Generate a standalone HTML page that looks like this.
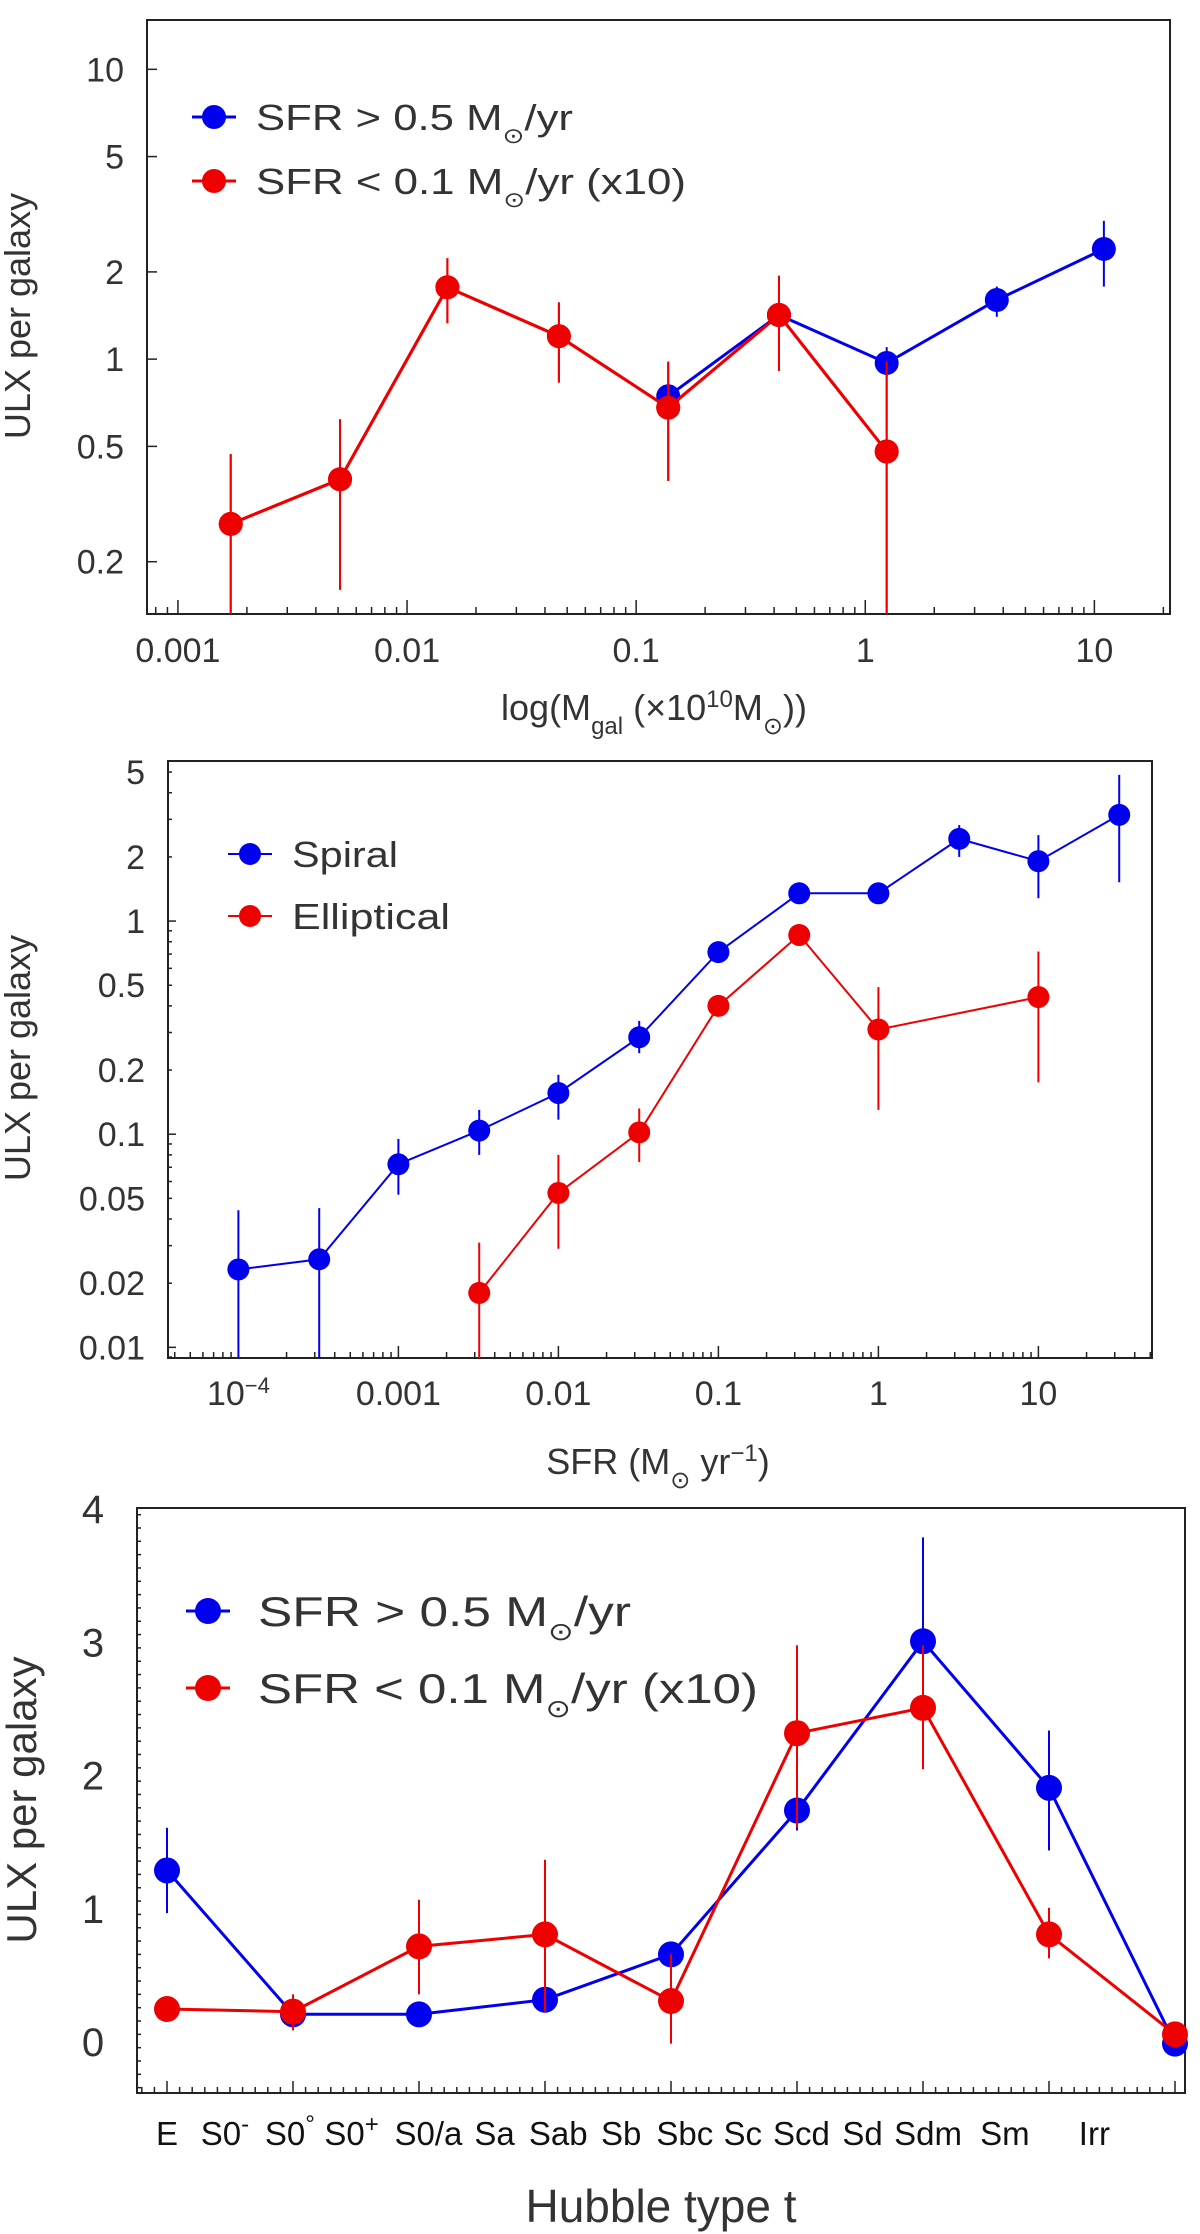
<!DOCTYPE html>
<html><head><meta charset="utf-8">
<style>
html,body{margin:0;padding:0;background:#fff;}
svg{display:block;font-family:"Liberation Sans",sans-serif;}
</style></head>
<body>
<svg id="fig" width="1200" height="2234" viewBox="0 0 1200 2234" xmlns="http://www.w3.org/2000/svg">
<rect x="0" y="0" width="1200" height="2234" fill="#fff"/>
</svg>
<script>
// ---------- Panel 1 data: ULX vs galaxy mass ----------
const p1HighX = [0.138, 0.42, 1.24, 3.75, 11];
const p1HighY = [0.745, 1.42, 0.97, 1.6, 2.4];
const p1HighLo = [0.68, 1.3, 0.88, 1.4, 1.78];
const p1HighHi = [0.8, 1.55, 1.1, 1.78, 3.0];
const p1LowX = [0.0017, 0.0051, 0.015, 0.046, 0.138, 0.42, 1.24];
const p1LowY = [0.27, 0.385, 1.77, 1.2, 0.68, 1.42, 0.48];
const p1LowLo = [0.05, 0.16, 1.33, 0.83, 0.38, 0.91, 0.05];
const p1LowHi = [0.47, 0.62, 2.23, 1.57, 0.98, 1.94, 0.98];
const p1XTicks = [0.001, 0.01, 0.1, 1, 10];
const p1XTickLabels = ["0.001", "0.01", "0.1", "1", "10"];
const p1YTicks = [0.2, 0.5, 1, 2, 5, 10];
const p1YTickLabels = ["0.2", "0.5", "1", "2", "5", "10"];

// ---------- Panel 2 data: ULX vs SFR ----------
const p2SpiralX = [1e-4, 3.2e-4, 1e-3, 3.2e-3, 0.01, 0.032, 0.1, 0.32, 1, 3.2, 10, 32];
const p2SpiralY = [0.0232, 0.0259, 0.0723, 0.104, 0.156, 0.285, 0.715, 1.35, 1.35, 2.43, 1.91, 3.15];
const p2SpiralLo = [0.005, 0.005, 0.052, 0.08, 0.117, 0.24, 0.65, 1.25, 1.25, 2.0, 1.28, 1.52];
const p2SpiralHi = [0.044, 0.045, 0.095, 0.13, 0.19, 0.34, 0.78, 1.45, 1.45, 2.82, 2.53, 4.85];
const p2EllX = [3.2e-3, 0.01, 0.032, 0.1, 0.32, 1, 10];
const p2EllY = [0.018, 0.053, 0.102, 0.40, 0.86, 0.31, 0.44];
const p2EllLo = [0.005, 0.029, 0.074, 0.36, 0.78, 0.13, 0.175];
const p2EllHi = [0.031, 0.08, 0.132, 0.45, 0.95, 0.49, 0.72];
const p2XTicks = [1e-4, 0.001, 0.01, 0.1, 1, 10];
const p2XTickLabels = ["10^-4", "0.001", "0.01", "0.1", "1", "10"];
const p2YTicks = [0.01, 0.02, 0.05, 0.1, 0.2, 0.5, 1, 2, 5];
const p2YTickLabels = ["0.01", "0.02", "0.05", "0.1", "0.2", "0.5", "1", "2", "5"];

// ---------- Panel 3 data: ULX vs Hubble type ----------
const p3T = [-5, -3, -1, 1, 3, 5, 7, 9, 11];
const p3HighY = [1.28, 0.2, 0.2, 0.31, 0.65, 1.73, 3.0, 1.9, -0.02];
const p3HighLo = [0.96, 0.2, 0.2, 0.31, 0.6, 1.58, 2.2, 1.43, -0.02];
const p3HighHi = [1.6, 0.2, 0.2, 0.31, 0.7, 1.88, 3.78, 2.33, -0.02];
const p3LowY = [0.24, 0.22, 0.71, 0.8, 0.3, 2.31, 2.5, 0.8, 0.05];
const p3LowLo = [0.2, 0.08, 0.35, 0.22, -0.02, 1.6, 2.04, 0.62, 0.02];
const p3LowHi = [0.28, 0.35, 1.06, 1.36, 0.65, 2.97, 2.97, 1.0, 0.08];
const p3CatLabels = ["E", "S0-", "S0°", "S0+", "S0/a", "Sa", "Sab", "Sb", "Sbc", "Sc", "Scd", "Sd", "Sdm", "Sm", "Irr"];
const p3CatT = [-5, -4.08, -3.05, -2.07, -0.85, 0.2, 1.21, 2.21, 3.22, 4.14, 5.07, 6.04, 7.08, 8.3, 9.72];
const p3YTicks = [0, 1, 2, 3, 4];
const p3YTickLabels = ["0", "1", "2", "3", "4"];

const NS = "http://www.w3.org/2000/svg";
const svg = document.getElementById("fig");
function mk(tag, attrs, parent) {
  const e = document.createElementNS(NS, tag);
  for (const k in attrs) e.setAttribute(k, attrs[k]);
  (parent || svg).appendChild(e);
  return e;
}
const TXT = "#333";
const BLUE = "#0000ee", RED = "#ee0000";

function logScale(d0, d1, r0, r1) {
  const a = Math.log10(d0), b = Math.log10(d1);
  return v => r0 + (Math.log10(v) - a) / (b - a) * (r1 - r0);
}
function linScale(d0, d1, r0, r1) { return v => r0 + (v - d0) / (d1 - d0) * (r1 - r0); }

function frame(L, T, R, B, name) {
  const r = mk("rect", {x: L, y: T, width: R - L, height: B - T, fill: "none", stroke: "#222", "stroke-width": 2});
  
  
}
function series(xs, ys, lo, hi, sx, sy, color, lw, rad, name, clipTop, clipBot) {
  const g = mk("g", {});
  
  
  for (let i = 0; i < xs.length; i++) {
    const x = sx(xs[i]);
    const y1 = Math.max(clipTop, sy(hi[i])), y2 = Math.min(clipBot, sy(lo[i]));
    const eb = mk("line", {x1: x, x2: x, y1: y1, y2: y2, stroke: color, "stroke-width": 2}, g);
    
    
  }
  const pts = xs.map((x, i) => sx(x).toFixed(1) + "," + sy(ys[i]).toFixed(1)).join(" ");
  const pl = mk("polyline", {points: pts, fill: "none", stroke: color, "stroke-width": lw}, g);
  
  
  for (let i = 0; i < xs.length; i++) {
    const c = mk("circle", {cx: sx(xs[i]), cy: sy(ys[i]), r: rad, fill: color}, g);
    
    
  }
}
function text(str, x, y, size, anchor, name, extra) {
  const t = mk("text", Object.assign({x: x, y: y, "font-size": size, fill: TXT, "text-anchor": anchor || "middle"}, extra || {}));
  t.textContent = str;
  
  
  return t;
}
function logMinorX(sx, d0, d1, yB, len) {
  for (let e = Math.floor(Math.log10(d0)); e <= Math.ceil(Math.log10(d1)); e++) {
    for (let m = 1; m <= 9; m++) {
      const v = m * Math.pow(10, e);
      if (v < d0 || v > d1) continue;
      const x = sx(v);
      mk("line", {x1: x, x2: x, y1: yB, y2: yB - (m === 1 ? len * 2 : len), stroke: "#222", "stroke-width": 1.5});
    }
  }
}
function logMinorY(sy, d0, d1, xL, len) {
  for (let e = Math.floor(Math.log10(d0)); e <= Math.ceil(Math.log10(d1)); e++) {
    for (let m = 1; m <= 9; m++) {
      const v = m * Math.pow(10, e);
      if (v < d0 || v > d1) continue;
      const y = sy(v);
      mk("line", {x1: xL, x2: xL + (m === 1 ? len * 2 : len), y1: y, y2: y, stroke: "#222", "stroke-width": 1.5});
    }
  }
}
function legendEntry(x, y, rad, lw, color, label, tx, size, tlen, name) {
  const g = mk("g", {});
  
  
  mk("line", {x1: x - 22, x2: x + 22, y1: y, y2: y, stroke: color, "stroke-width": lw}, g);
  mk("circle", {cx: x, cy: y, r: rad, fill: color}, g);
  return g;
}
function sunText(g, parts, x, y, size, tlen, name) {
  const t = mk("text", {x: x, y: y, "font-size": size, fill: TXT, textLength: tlen, lengthAdjust: "spacingAndGlyphs"}, g);
  
  
  parts.forEach(p => {
    const s = mk("tspan", p.sub ? {"baseline-shift": "sub", "font-size": size * 0.6} : (p.sup ? {"baseline-shift": "super", "font-size": size * 0.6} : {}), t);
    s.textContent = p.t;
  });
  return t;
}

// ================= PANEL 1 =================
(function () {
  const L = 147, R = 1170, T = 20, B = 614;
  const sx = logScale(Math.pow(10, -3.135), Math.pow(10, 1.33), L, R);
  const sy = logScale(0.132, 14.8, B, T);
  frame(L, T, R, B, "panel1-frame");
  logMinorX(sx, Math.pow(10, -3.135), Math.pow(10, 1.33), B, 7);
  p1XTicks.forEach((v, i) => text(p1XTickLabels[i], sx(v), 662, 34, "middle", "p1-x-tick-label"));
  p1YTicks.forEach((v, i) => {
    mk("line", {x1: L, x2: L + 10, y1: sy(v), y2: sy(v), stroke: "#222", "stroke-width": 1.5});
    text(p1YTickLabels[i], 124, sy(v) + 12, 34, "end", "p1-y-tick-label");
  });
  series(p1LowX, p1LowY, p1LowLo, p1LowHi, sx, sy, RED, 3, 12, "p1-low-sfr-series", T, B);
  series(p1HighX, p1HighY, p1HighLo, p1HighHi, sx, sy, BLUE, 3, 12, "p1-high-sfr-series", T, B);
  // draw red again on top where overlapping
  series(p1LowX, p1LowY, p1LowLo, p1LowHi, sx, sy, RED, 3, 12, "p1-low-sfr-overlay", T, B);
  const g1 = legendEntry(214, 117, 12, 3, BLUE, "", 0, 0, 0, "p1-legend-high-sfr");
  sunText(g1, [{t: "SFR > 0.5 M"}, {t: "⊙", sub: 1}, {t: "/yr"}], 256, 130, 36, 317, "p1-legend-high-text");
  const g2 = legendEntry(214, 181, 12, 3, RED, "", 0, 0, 0, "p1-legend-low-sfr");
  sunText(g2, [{t: "SFR < 0.1 M"}, {t: "⊙", sub: 1}, {t: "/yr (x10)"}], 256, 194, 36, 430, "p1-legend-low-text");
  const xl = mk("text", {x: 654, y: 720, "font-size": 36, fill: TXT, "text-anchor": "middle"});
  
  
  xl.innerHTML = 'log(M<tspan baseline-shift="sub" font-size="24">gal</tspan> (×10<tspan baseline-shift="super" font-size="24">10</tspan>M<tspan baseline-shift="sub" font-size="24">⊙</tspan>))';
  text("ULX per galaxy", 0, 0, 36, "middle", "p1-y-axis-title", {transform: "translate(30,316) rotate(-90)"});
})();

// ================= PANEL 2 =================
(function () {
  const L = 168, R = 1152, T = 761, B = 1358;
  const x0 = Math.pow(10, -4.44), x1 = Math.pow(10, 1.71);
  const y0 = Math.pow(10, -2.05), y1 = Math.pow(10, 0.751);
  const sx = logScale(x0, x1, L, R);
  const sy = logScale(y0, y1, B, T);
  frame(L, T, R, B, "panel2-frame");
  logMinorX(sx, x0, x1, B, 6);
  logMinorY(sy, y0, y1, L, 4);
  p2XTicks.forEach((v, i) => {
    const lab = p2XTickLabels[i];
    if (lab.indexOf("^") >= 0) {
      const t = mk("text", {x: sx(v), y: 1405, "font-size": 34, fill: TXT, "text-anchor": "middle"});
      
      
      const parts = lab.split("^");
      t.innerHTML = parts[0] + '<tspan baseline-shift="super" font-size="22">' + parts[1].replace("-", "−") + '</tspan>';
    } else text(lab, sx(v), 1405, 34, "middle", "p2-x-tick-label");
  });
  p2YTicks.forEach((v, i) => text(p2YTickLabels[i], 145, sy(v) + 12, 34, "end", "p2-y-tick-label"));
  series(p2EllX, p2EllY, p2EllLo, p2EllHi, sx, sy, RED, 2, 11, "p2-elliptical-series", T, B);
  series(p2SpiralX, p2SpiralY, p2SpiralLo, p2SpiralHi, sx, sy, BLUE, 2, 11, "p2-spiral-series", T, B);
  const g1 = legendEntry(250, 854, 11, 2, BLUE, "", 0, 0, 0, "p2-legend-spiral");
  sunText(g1, [{t: "Spiral"}], 292, 867, 36, 106, "p2-legend-spiral-text");
  const g2 = legendEntry(250, 916, 11, 2, RED, "", 0, 0, 0, "p2-legend-elliptical");
  sunText(g2, [{t: "Elliptical"}], 292, 929, 36, 158, "p2-legend-elliptical-text");
  const xl = mk("text", {x: 658, y: 1474, "font-size": 36, fill: TXT, "text-anchor": "middle"});
  
  
  xl.innerHTML = 'SFR (M<tspan baseline-shift="sub" font-size="24">⊙</tspan> yr<tspan baseline-shift="super" font-size="24">−1</tspan>)';
  text("ULX per galaxy", 0, 0, 36, "middle", "p2-y-axis-title", {transform: "translate(30,1058) rotate(-90)"});
})();

// ================= PANEL 3 =================
(function () {
  const L = 137, R = 1185, T = 1508, B = 2093;
  const sx = linScale(-5, 11, 167, 1175);
  const sy = linScale(0, 4, 2041, 1508);
  frame(L, T, R, B, "panel3-frame");
  for (let t = -5.6; t <= 11.6; t += 0.2) {
    const x = sx(t);
    if (x <= L || x >= R) continue;
    const major = Math.abs((t + 5) / 2 - Math.round((t + 5) / 2)) < 0.01;
    mk("line", {x1: x, x2: x, y1: B, y2: B - (major ? 12 : 6), stroke: "#222", "stroke-width": 1.5});
  }
  for (let v = -0.35; v <= 4; v += 0.1) {
    const y = sy(v);
    if (y >= B || y <= T) continue;
    const major = Math.abs(v - Math.round(v)) < 0.01;
    mk("line", {x1: L, x2: L + (major ? 10 : 4), y1: y, y2: y, stroke: "#222", "stroke-width": 1.5});
  }
  p3YTicks.forEach((v, i) => text(p3YTickLabels[i], 93, sy(v) + 15, 40, "middle", "p3-y-tick-label"));
  p3CatLabels.forEach((lab, i) => {
    const t = mk("text", {x: sx(p3CatT[i]), y: 2145, "font-size": 33, fill: "#111", "text-anchor": "middle"});
    
    
    if (lab.length === 3 && lab.startsWith("S0") && "-°+".indexOf(lab[2]) >= 0) {
      t.innerHTML = 'S0<tspan baseline-shift="super" font-size="24">' + lab[2] + '</tspan>';
    } else t.textContent = lab;
  });
  series(p3T, p3HighY, p3HighLo, p3HighHi, sx, sy, BLUE, 3, 13, "p3-high-sfr-series", T, B);
  series(p3T, p3LowY, p3LowLo, p3LowHi, sx, sy, RED, 3, 13, "p3-low-sfr-series", T, B);
  const g1 = legendEntry(208, 1611, 13, 3, BLUE, "", 0, 0, 0, "p3-legend-high-sfr");
  sunText(g1, [{t: "SFR > 0.5 M"}, {t: "⊙", sub: 1}, {t: "/yr"}], 258, 1626, 42, 373, "p3-legend-high-text");
  const g2 = legendEntry(208, 1688, 13, 3, RED, "", 0, 0, 0, "p3-legend-low-sfr");
  sunText(g2, [{t: "SFR < 0.1 M"}, {t: "⊙", sub: 1}, {t: "/yr (x10)"}], 258, 1703, 42, 500, "p3-legend-low-text");
  text("Hubble type t", 661, 2222, 46, "middle", "p3-x-axis-title");
  text("ULX per galaxy", 0, 0, 42, "middle", "p3-y-axis-title", {transform: "translate(36,1800) rotate(-90)"});
})();
</script>
</body></html>
